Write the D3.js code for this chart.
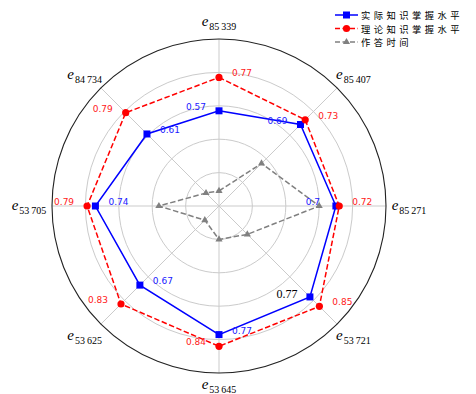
<!DOCTYPE html>
<html>
<head>
<meta charset="utf-8">
<script src="https://cdn.jsdelivr.net/npm/d3@7"></script>
<style>
  html, body { margin: 0; padding: 0; background: #fff; }
  svg { display: block; }
</style>
</head>
<body>
<svg id="chart" width="476" height="394"></svg>
<script>
// Knowledge points (axes, clockwise from the top)
const categories = ["85339", "85407", "85271", "53721", "53645", "53625", "53705", "84734"];
// Actual mastery level
const actual = [0.57, 0.69, 0.70, 0.77, 0.77, 0.67, 0.74, 0.61];
// Theoretical mastery level
const theory = [0.77, 0.73, 0.72, 0.85, 0.84, 0.83, 0.79, 0.79];
// Answer time (normalised)
const answerTime = [0.09, 0.36, 0.60, 0.24, 0.20, 0.12, 0.36, 0.11];
// Radial grid rings
const ringTicks = [0.2, 0.4, 0.6, 0.8];
const seriesNames = ["实际知识掌握水平", "理论知识掌握水平", "作答时间"];

const svg = d3.select("#chart");
const cx = 219, cy = 206, R = 167;
const n = categories.length;

const r = d3.scaleLinear().domain([0, 1]).range([0, R]);
const angle = d3.scaleLinear().domain([0, n]).range([0, 2 * Math.PI]);

const g = svg.append("g").attr("transform", `translate(${cx},${cy})`);
const px = (i, v) => r(v) * Math.sin(angle(i));
const py = (i, v) => -r(v) * Math.cos(angle(i));

// grid rings
g.selectAll("circle.ring").data(ringTicks).join("circle")
  .attr("class", "ring").attr("r", d => r(d))
  .attr("fill", "none").attr("stroke", "#cbcbcb").attr("stroke-width", 1);

// spokes
g.selectAll("line.spoke").data(d3.range(n)).join("line")
  .attr("class", "spoke")
  .attr("x1", 0).attr("y1", 0)
  .attr("x2", i => px(i, 1)).attr("y2", i => py(i, 1))
  .attr("stroke", "#cbcbcb").attr("stroke-width", 1);

// outer frame
g.append("circle").attr("r", r(1)).attr("fill", "none")
  .attr("stroke", "#222").attr("stroke-width", 1.1);

const radial = d3.lineRadial()
  .angle((d, i) => angle(i))
  .radius(d => r(d))
  .curve(d3.curveLinearClosed);

// actual
g.append("path").datum(actual).attr("d", radial)
  .attr("fill", "none").attr("stroke", "#0000ff").attr("stroke-width", 1.5);
g.selectAll("rect.act").data(actual).join("rect")
  .attr("class", "act")
  .attr("x", (d, i) => px(i, d) - 3.5).attr("y", (d, i) => py(i, d) - 3.5)
  .attr("width", 7).attr("height", 7).attr("fill", "#0000ff");

// theory
g.append("path").datum(theory).attr("d", radial)
  .attr("fill", "none").attr("stroke", "#ff0000").attr("stroke-width", 1.5)
  .attr("stroke-dasharray", "5.5,2.5");
g.selectAll("circle.th").data(theory).join("circle")
  .attr("class", "th")
  .attr("cx", (d, i) => px(i, d)).attr("cy", (d, i) => py(i, d))
  .attr("r", 3.6).attr("fill", "#ff0000");

// answer time
const tri = d3.symbol().type(d3.symbolTriangle).size(22);
g.append("path").datum(answerTime).attr("d", radial)
  .attr("fill", "none").attr("stroke", "#808080").attr("stroke-width", 1.5)
  .attr("stroke-dasharray", "5.5,2.5");
g.selectAll("path.tm").data(answerTime).join("path")
  .attr("class", "tm").attr("d", tri)
  .attr("transform", (d, i) => `translate(${px(i, d)},${py(i, d)})`)
  .attr("fill", "#808080");

// value labels: theory to one side, actual to the other
const side = i => (i < n / 2 ? 1 : -1);
const serifLabelIndex = 3;
g.selectAll("text.thv").data(theory).join("text")
  .attr("class", "thv")
  .attr("x", (d, i) => px(i, d) + 23 * side(i))
  .attr("y", (d, i) => py(i, d) - 4)
  .attr("text-anchor", "middle").attr("dominant-baseline", "central")
  .attr("font-family", "DejaVu Sans").attr("font-size", 9)
  .attr("fill", "#ff2020")
  .text(d => String(+d.toFixed(2)));
g.selectAll("text.acv").data(actual).join("text")
  .attr("class", "acv")
  .attr("x", (d, i) => px(i, d) - 23 * side(i))
  .attr("y", (d, i) => py(i, d) - (i === serifLabelIndex ? 3 : 4))
  .attr("text-anchor", "middle").attr("dominant-baseline", "central")
  .attr("font-family", (d, i) => i === serifLabelIndex ? "Liberation Serif" : "DejaVu Sans")
  .attr("font-size", (d, i) => i === serifLabelIndex ? 12 : 9)
  .attr("fill", (d, i) => i === serifLabelIndex ? "#000" : "#2020ff")
  .text(d => String(+d.toFixed(2)));

// axis labels e_{nn nnn}
const labelRx = 190;
const labelRy = i => (Math.cos(angle(i)) < -0.9 ? 179 : 184);
categories.forEach((c, i) => {
  const t = g.append("text").attr("font-family", "Liberation Serif").attr("fill", "#000");
  t.append("tspan").attr("font-style", "italic").attr("font-size", 15).text("e");
  t.append("tspan").attr("font-size", 10).attr("dy", 4).attr("dx", 1)
    .text(c.slice(0, 2) + "\u2009" + c.slice(2));
  const b = t.node().getBBox();
  const tx = labelRx * Math.sin(angle(i)), ty = -labelRy(i) * Math.cos(angle(i));
  t.attr("transform", `translate(${tx - (b.x + b.width / 2)},${ty - (b.y + b.height / 2)})`);
});

// legend
const legend = svg.append("g").attr("transform", "translate(335,15)");
const rowH = 13.5;
seriesNames.forEach((name, k) => {
  const row = legend.append("g").attr("transform", `translate(0,${k * rowH})`);
  const color = ["#0000ff", "#ff0000", "#808080"][k];
  row.append("line").attr("x1", 0).attr("x2", 23).attr("y1", 0).attr("y2", 0)
    .attr("stroke", color).attr("stroke-width", 1.5)
    .attr("stroke-dasharray", k === 0 ? null : "5,2.5");
  if (k === 0) row.append("rect").attr("x", 8).attr("y", -3.5).attr("width", 7).attr("height", 7).attr("fill", color);
  else if (k === 1) row.append("circle").attr("cx", 11.5).attr("r", 3.6).attr("fill", color);
  else row.append("path").attr("d", tri).attr("transform", "translate(11.5,0)").attr("fill", color);
  row.append("text").attr("x", 26).attr("y", 0).attr("dominant-baseline", "central")
    .attr("font-family", "Noto Sans CJK SC").attr("font-size", 9.3)
    .attr("letter-spacing", 3.45).attr("fill", "#000").text(name);
});
</script>
</body>
</html>
